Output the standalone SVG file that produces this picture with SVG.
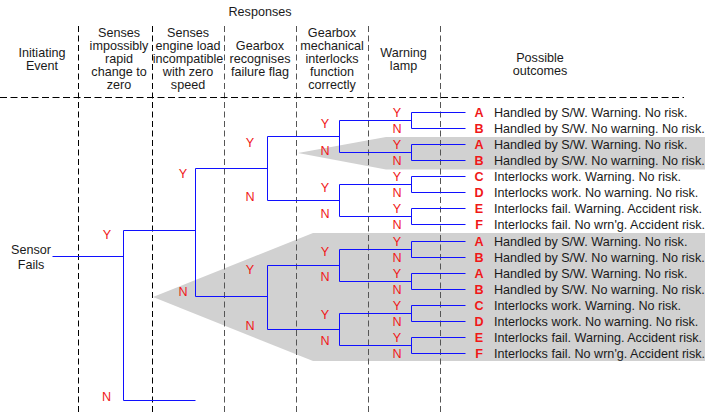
<svg xmlns="http://www.w3.org/2000/svg" width="705" height="412" viewBox="0 0 705 412">
<style>
text{font-family:"Liberation Sans",Arial,sans-serif;font-size:12.6px;fill:#1a1a1a}
.h{text-anchor:middle}
.yn{fill:#f01818;text-anchor:middle}
.lt{fill:#f01818;font-weight:bold;text-anchor:middle}
.vd{stroke:#000;stroke-width:1;stroke-dasharray:6 3.5;fill:none}
.vg{stroke:#555;stroke-width:1;stroke-dasharray:6 3.5;fill:none}
.hd{stroke:#000;stroke-width:1.1;stroke-dasharray:7 3.5;fill:none}
.br{stroke:#1010ff;stroke-width:1;fill:none}
.sh{fill:#d1d1d1}
</style>
<rect width="705" height="412" fill="#fff"/>
<g id="shading">
<polygon class="sh" points="298,153 386,137 705,137 705,169.5 386,169.5"/>
<polygon class="sh" points="153,297 313,233 705,233 705,361 313,361"/>
</g>
<g id="grid">
<path class="vd" d="M78.5 26V412M152.5 26V412"/>
<path class="vg" d="M224.5 26V412M296.5 26V412M368.5 26V412M440.5 26V412"/>
<path class="hd" d="M0 97.5H684"/>
</g>
<g id="headers">
<text class="h" x="260" y="16">Responses</text>
<text class="h" x="42" y="57">Initiating</text>
<text class="h" x="42" y="70">Event</text>
<text class="h" x="119" y="37">Senses</text>
<text class="h" x="119" y="50">impossibly</text>
<text class="h" x="119" y="63">rapid</text>
<text class="h" x="119" y="76">change to</text>
<text class="h" x="119" y="89">zero</text>
<text class="h" x="188" y="37">Senses</text>
<text class="h" x="188" y="50">engine load</text>
<text class="h" x="188" y="63">incompatible</text>
<text class="h" x="188" y="76">with zero</text>
<text class="h" x="188" y="89">speed</text>
<text class="h" x="260" y="50">Gearbox</text>
<text class="h" x="260" y="63">recognises</text>
<text class="h" x="260" y="76">failure flag</text>
<text class="h" x="332" y="37">Gearbox</text>
<text class="h" x="332" y="50">mechanical</text>
<text class="h" x="332" y="63">interlocks</text>
<text class="h" x="332" y="76">function</text>
<text class="h" x="332" y="89">correctly</text>
<text class="h" x="403.5" y="57">Warning</text>
<text class="h" x="403.5" y="70">lamp</text>
<text class="h" x="540" y="62">Possible</text>
<text class="h" x="540" y="75">outcomes</text>
</g>
<g id="connectors" transform="translate(0.5,0.5)">
<path class="br" d="M52 256H123M123 230V400M123 230H195M123 400H195"/>
<path class="br" d="M195 168V296M195 168H267M195 296H267"/>
<path class="br" d="M267 136V200M267 136H339M267 200H339M267 265V329M267 265H339M267 329H339"/>
<path class="br" d="M339 120V152M339 120H411M339 152H411M339 184V216M339 184H411M339 216H411M339 249V281M339 249H411M339 281H411M339 313V345M339 313H411M339 345H411"/>
<path class="br" d="M411 112V128M411 112H465M411 128H465M411 144V160M411 144H465M411 160H465M411 176V192M411 176H465M411 192H465M411 208V224M411 208H465M411 224H465"/>
<path class="br" d="M411 241V257M411 241H465M411 257H465M411 273V289M411 273H465M411 289H465M411 305V321M411 305H465M411 321H465M411 337V353M411 337H465M411 353H465"/>
</g>
<g id="node-sensor-fails">
<text class="h" x="31" y="254">Sensor</text>
<text class="h" x="31" y="268.5">Fails</text>
<text class="yn" x="107" y="238.5">Y</text>
<text class="yn" x="106.5" y="401">N</text>
</g>
<g id="node-rapid-change">
<text class="yn" x="183" y="177.5">Y</text>
<text class="yn" x="183" y="295.5">N</text>
</g>
<g id="node-flag-upper">
<text class="yn" x="250" y="146.5">Y</text>
<text class="yn" x="250" y="201">N</text>
</g>
<g id="node-flag-lower">
<text class="yn" x="250" y="273.5">Y</text>
<text class="yn" x="250" y="329.5">N</text>
</g>
<g id="node-interlocks">
<text class="yn" x="325" y="127.5">Y</text>
<text class="yn" x="325" y="155">N</text>
<text class="yn" x="325" y="191.5">Y</text>
<text class="yn" x="325" y="217.5">N</text>
<text class="yn" x="325" y="255.5">Y</text>
<text class="yn" x="325" y="281">N</text>
<text class="yn" x="325" y="318.5">Y</text>
<text class="yn" x="325" y="345">N</text>
</g>
<g id="node-warning-lamp">
<text class="yn" x="397" y="117">Y</text>
<text class="yn" x="397" y="132.5">N</text>
<text class="yn" x="397" y="149">Y</text>
<text class="yn" x="397" y="164.5">N</text>
<text class="yn" x="397" y="181">Y</text>
<text class="yn" x="397" y="196.5">N</text>
<text class="yn" x="397" y="213">Y</text>
<text class="yn" x="397" y="228.5">N</text>
<text class="yn" x="397" y="246">Y</text>
<text class="yn" x="397" y="261.5">N</text>
<text class="yn" x="397" y="278">Y</text>
<text class="yn" x="397" y="293.5">N</text>
<text class="yn" x="397" y="310">Y</text>
<text class="yn" x="397" y="325.5">N</text>
<text class="yn" x="397" y="342">Y</text>
<text class="yn" x="397" y="357.5">N</text>
</g>
<g id="outcomes-upper">
<g id="o1"><text class="lt" x="479" y="116.5">A</text><text x="494" y="116.5">Handled by S/W. Warning. No risk.</text></g>
<g id="o2"><text class="lt" x="479" y="132.5">B</text><text x="494" y="132.5">Handled by S/W. No warning. No risk.</text></g>
<g id="o3"><text class="lt" x="479" y="148.5">A</text><text x="494" y="148.5">Handled by S/W. Warning. No risk.</text></g>
<g id="o4"><text class="lt" x="479" y="164.5">B</text><text x="494" y="164.5">Handled by S/W. No warning. No risk.</text></g>
<g id="o5"><text class="lt" x="479" y="180.5">C</text><text x="494" y="180.5">Interlocks work. Warning. No risk.</text></g>
<g id="o6"><text class="lt" x="479" y="196.5">D</text><text x="494" y="196.5">Interlocks work. No warning. No risk.</text></g>
<g id="o7"><text class="lt" x="479" y="212.5">E</text><text x="494" y="212.5">Interlocks fail. Warning. Accident risk.</text></g>
<g id="o8"><text class="lt" x="479" y="228.5">F</text><text x="494" y="228.5">Interlocks fail. No wrn'g. Accident risk.</text></g>
</g>
<g id="outcomes-lower">
<g id="o9"><text class="lt" x="479" y="245.5">A</text><text x="494" y="245.5">Handled by S/W. Warning. No risk.</text></g>
<g id="o10"><text class="lt" x="479" y="261.5">B</text><text x="494" y="261.5">Handled by S/W. No warning. No risk.</text></g>
<g id="o11"><text class="lt" x="479" y="277.5">A</text><text x="494" y="277.5">Handled by S/W. Warning. No risk.</text></g>
<g id="o12"><text class="lt" x="479" y="293.5">B</text><text x="494" y="293.5">Handled by S/W. No warning. No risk.</text></g>
<g id="o13"><text class="lt" x="479" y="309.5">C</text><text x="494" y="309.5">Interlocks work. Warning. No risk.</text></g>
<g id="o14"><text class="lt" x="479" y="325.5">D</text><text x="494" y="325.5">Interlocks work. No warning. No risk.</text></g>
<g id="o15"><text class="lt" x="479" y="341.5">E</text><text x="494" y="341.5">Interlocks fail. Warning. Accident risk.</text></g>
<g id="o16"><text class="lt" x="479" y="357.5">F</text><text x="494" y="357.5">Interlocks fail. No wrn'g. Accident risk.</text></g>
</g>
</svg>
